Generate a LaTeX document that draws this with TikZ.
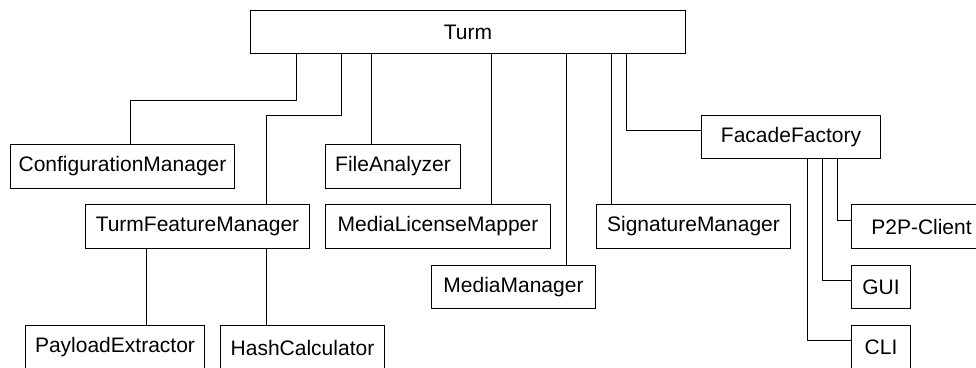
\documentclass[tikz,border=0pt]{standalone}
\usepackage{fontspec}
\setmainfont{Liberation Sans}
\begin{document}
\begin{tikzpicture}[x=1pt,y=-1pt,
  box/.style={draw, line width=1pt, inner sep=0pt, anchor=north west,
    font=\fontsize{21}{25}\selectfont},
  link/.style={line width=1pt}]
\useasboundingbox (0,0) rectangle (976,367);
\clip (0,0) rectangle (976,367);

% classes
\node[box, minimum width=435pt, minimum height=43pt] (turm) at (250,10) {Turm};
\node[box, minimum width=224pt, minimum height=44pt] (cm)   at (10,144)  {ConfigurationManager};
\node[box, minimum width=135pt, minimum height=44pt] (fa)   at (325,144) {FileAnalyzer};
\node[box, minimum width=224pt, minimum height=44pt] (tfm)  at (85,204)  {TurmFeatureManager};
\node[box, minimum width=225pt, minimum height=44pt] (mlm)  at (325,204) {MediaLicenseMapper};
\node[box, minimum width=164pt, minimum height=43pt] (mm)   at (431,265) {MediaManager};
\node[box, minimum width=194pt, minimum height=44pt] (sm)   at (596,204) {SignatureManager};
\node[box, minimum width=179pt, minimum height=43pt] (ff)   at (701,115) {FacadeFactory};
\node[box, minimum width=140pt, minimum height=44pt] (p2p)  at (851,204) {P2P-Client};
\node[box, minimum width=59pt,  minimum height=43pt] (gui)  at (851,265) {GUI};
\node[box, minimum width=59pt,  minimum height=44pt] (cli)  at (851,325) {CLI};
\node[box, minimum width=179pt, minimum height=44pt] (pe)   at (25,325)  {PayloadExtractor};
\node[box, minimum width=164pt, minimum height=44pt] (hc)   at (220,325) {HashCalculator};

% connector start points along the bottom edges
\coordinate (t1) at ([xshift=46pt]turm.south west);
\coordinate (t2) at ([xshift=91pt]turm.south west);
\coordinate (t3) at ([xshift=121pt]turm.south west);
\coordinate (t4) at ([xshift=241pt]turm.south west);
\coordinate (t5) at ([xshift=316pt]turm.south west);
\coordinate (t6) at ([xshift=361pt]turm.south west);
\coordinate (t7) at ([xshift=376pt]turm.south west);
\coordinate (f1) at ([xshift=106pt]ff.south west);
\coordinate (f2) at ([xshift=121pt]ff.south west);
\coordinate (f3) at ([xshift=136pt]ff.south west);
\coordinate (m1) at ([xshift=61pt]tfm.south west);
\coordinate (m2) at ([xshift=181pt]tfm.south west);

% connectors
\draw[link] (t1) -- ++(0,46) -| ([xshift=8pt]cm.north);
\draw[link] (t2) -- ++(0,61) -| ([xshift=69pt]tfm.north);
\draw[link] (t3) -- (t3 |- fa.north);
\draw[link] (t4) -- (t4 |- mlm.north);
\draw[link] (t5) -- (t5 |- mm.north);
\draw[link] (t6) -- (t6 |- sm.north);
\draw[link] (t7) |- ([yshift=7pt]ff.west);
\draw[link] (f1) |- ([yshift=7pt]cli.west);
\draw[link] (f2) |- ([yshift=7pt]gui.west);
\draw[link] (f3) |- ([yshift=6pt]p2p.west);
\draw[link] (m1) -- (m1 |- pe.north);
\draw[link] (m2) -- (m2 |- hc.north);
\end{tikzpicture}
\end{document}
